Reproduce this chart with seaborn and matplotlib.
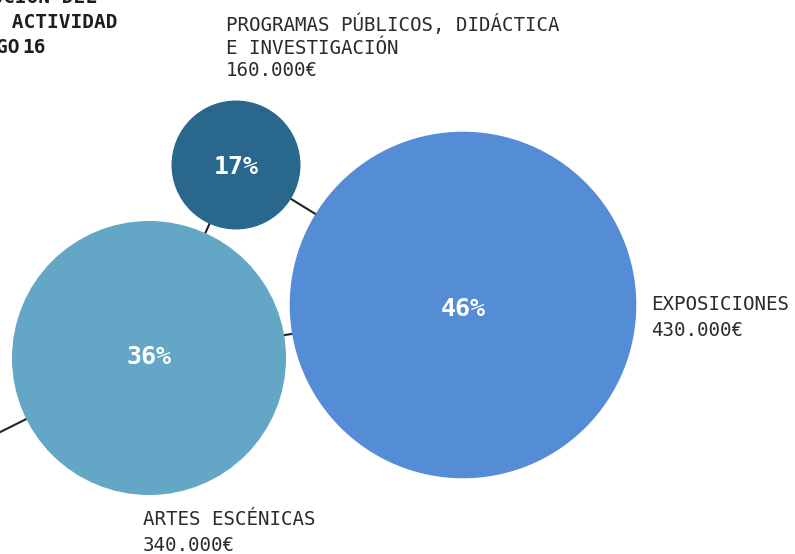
import matplotlib
matplotlib.use("Agg")
import matplotlib.pyplot as plt
import seaborn as sns
import pandas as pd

# ---- data ----
categories = ["EXPOSICIONES", "ARTES ESCÉNICAS", "PROGRAMAS PÚBLICOS, DIDÁCTICA\nE INVESTIGACIÓN"]
amounts = [430000, 340000, 160000]
amount_labels = ["430.000€", "340.000€", "160.000€"]
percent_labels = ["46%", "36%", "17%"]
title_lines = ["DISTRIBUCIÓN DEL", "GASTO EN ACTIVIDAD", "ARTIGO", "16"]

# ---- layout (pixel coordinates) ----
W, H, DPI = 795, 554, 100
centers_x = [463, 149, 236]
centers_y = [305, 358, 165]
pct_dy = [1, -3, -1]
colors = ["#548CD5", "#63A6C6", "#2A678C"]
px_per_euro = 0.000403  # radius proportional to amount
hidden_node = (-60, 462)  # off-canvas node linked to ARTES ESCÉNICAS
edges = [(2, 0), (2, 1), (1, 0)]

sns.set_theme(style="white")
plt.rcParams['font.family'] = ['DejaVu Sans Mono', 'DejaVu Sans']

fig = plt.figure(figsize=(W / DPI, H / DPI), dpi=DPI)
ax = fig.add_axes([0, 0, 1, 1])

df = pd.DataFrame({
    "cat": categories,
    "x": centers_x,
    "y": centers_y,
    "amount": amounts,
})
radii = [a * px_per_euro for a in amounts]
size_map = {c: (2 * r * 72 / DPI) ** 2 for c, r in zip(categories, radii)}
palette = dict(zip(categories, colors))

line_color = "#222222"
for i, j in edges:
    ax.plot([centers_x[i], centers_x[j]], [centers_y[i], centers_y[j]],
            color=line_color, lw=1.5, zorder=1, solid_capstyle="butt")
ax.plot([centers_x[1], hidden_node[0]], [centers_y[1], hidden_node[1]],
        color=line_color, lw=1.5, zorder=1, solid_capstyle="butt")

sns.scatterplot(data=df, x="x", y="y", hue="cat", size="cat",
                sizes=size_map, palette=palette, linewidth=0,
                legend=False, ax=ax, zorder=3, alpha=1)
ax.set_xlim(0, W)
ax.set_ylim(H, 0)
ax.axis("off")

# percentages
for x, y, dy, p in zip(centers_x, centers_y, pct_dy, percent_labels):
    ax.text(x, y + dy, p, color="white", fontsize=18, fontweight="bold",
            ha="center", va="center_baseline", zorder=5)

txt_color = "#2b2b2b"
fs = 13.8
# EXPOSICIONES label
ax.text(651, 310, categories[0], fontsize=fs, color=txt_color, ha="left", va="baseline")
ax.text(651, 336, amount_labels[0], fontsize=fs, color=txt_color, ha="left", va="baseline")
# ARTES ESCENICAS label
ax.text(143, 525, categories[1], fontsize=fs, color=txt_color, ha="left", va="baseline")
ax.text(143, 551, amount_labels[1], fontsize=fs, color=txt_color, ha="left", va="baseline")
# PROGRAMAS label
prog_lines = categories[2].split("\n")
ax.text(226, 31.5, prog_lines[0], fontsize=fs, color=txt_color, ha="left", va="baseline")
ax.text(226, 54, prog_lines[1], fontsize=fs, color=txt_color, ha="left", va="baseline")
ax.text(226, 76.5, amount_labels[2], fontsize=fs, color=txt_color, ha="left", va="baseline")

# title (partially off-canvas)
title_right = [97, 117.5, 20, 46]
title_base = [3, 28, 53, 53]
for t, xr, yb in zip(title_lines, title_right, title_base):
    ax.text(xr, yb, t, fontsize=14, fontweight="bold", color="#1e1e1e",
            ha="right", va="baseline")

fig.savefig("out.png", dpi=DPI)
